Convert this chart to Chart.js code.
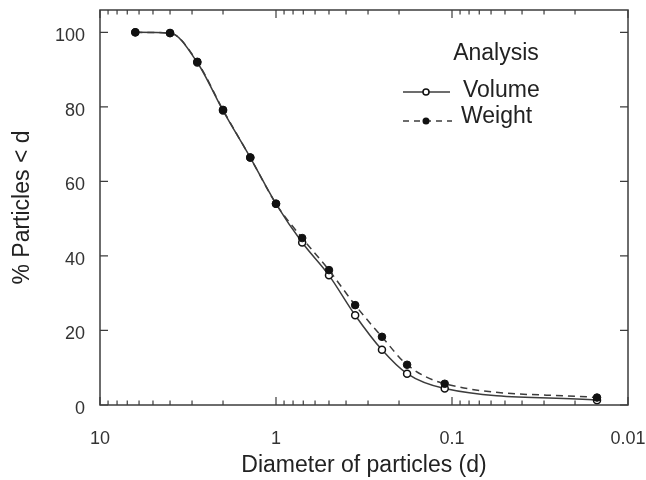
<!DOCTYPE html>
<html>
<head>
<meta charset="utf-8">
<script src="https://cdn.jsdelivr.net/npm/chart.js@4.4.1/dist/chart.umd.min.js"></script>
<style>
html,body{margin:0;padding:0;background:#fff;}
#wrap{width:646px;height:480px;position:relative;}
</style>
</head>
<body>
<div id="wrap"><canvas id="sizeChart" width="646" height="480"></canvas></div>
<script>
// sieve diameters
const diameters = [6.3, 4.0, 2.8, 2.0, 1.4, 1.0, 0.71, 0.5, 0.355, 0.25, 0.18, 0.11, 0.015]
const volumePct = [100, 99.8, 91.9, 79.0, 66.4, 54.0, 43.6, 34.8, 24.1, 14.8, 8.4, 4.4, 1.3]
const weightPct = [100, 99.8, 92.1, 79.2, 66.4, 54.0, 44.8, 36.2, 26.8, 18.3, 10.8, 5.7, 2.0]

const xTicks = [10, 1, 0.1, 0.01]
const yTicks = [0, 20, 40, 60, 80, 100]

const FONT = "'Liberation Sans', Arial, sans-serif"
const INK = '#222'
const LINE = '#3c3c3c'

function toPoints(vals){
return diameters.map((d,i)=>({x:d,y:vals[i]}))
}

// frame + inward ticks on all four sides
const framePlugin = {
id:'frame',
afterDraw(chart){
const {ctx, chartArea:a, scales} = chart
const xs = scales.x, ys = scales.y
ctx.save()
ctx.strokeStyle = LINE
ctx.lineWidth = 1.5
ctx.strokeRect(a.left, a.top, a.right-a.left, a.bottom-a.top)
ctx.lineWidth = 1.2
ctx.beginPath()
for(let e=-2;e<1;e++){
for(let m=1;m<=10;m++){
let v = m*Math.pow(10,e)
let px = xs.getPixelForValue(v)
let len = (m==1||m==10) ? 8 : 4.5
ctx.moveTo(px, a.bottom); ctx.lineTo(px, a.bottom-len)
ctx.moveTo(px, a.top); ctx.lineTo(px, a.top+len)
}
}
yTicks.forEach(v=>{
let py = ys.getPixelForValue(v)
ctx.moveTo(a.left, py); ctx.lineTo(a.left+8, py)
ctx.moveTo(a.right, py); ctx.lineTo(a.right-8, py)
})
ctx.stroke()
ctx.restore()
}
}

// legend box drawn inside the plot like the original
const legendPlugin = {
id:'analysisLegend',
afterDraw(chart){
const ctx = chart.ctx
ctx.save()
ctx.font = "23px " + FONT
ctx.fillStyle = INK
ctx.textBaseline = 'alphabetic'
ctx.textAlign = 'center'
ctx.fillText('Analysis', 496, 60)
ctx.textAlign = 'left'
ctx.fillText('Volume', 463, 97)
ctx.fillText('Weight', 461, 123)

ctx.strokeStyle = LINE
ctx.lineWidth = 1.5
ctx.beginPath()
ctx.moveTo(403, 92); ctx.lineTo(450, 92)
ctx.stroke()
ctx.setLineDash([6,5])
ctx.beginPath()
ctx.moveTo(403, 121); ctx.lineTo(452, 121)
ctx.stroke()
ctx.setLineDash([])

ctx.beginPath()
ctx.arc(426, 92, 3, 0, Math.PI*2)
ctx.fillStyle = '#fff'
ctx.fill()
ctx.strokeStyle = '#111'
ctx.stroke()
ctx.beginPath()
ctx.arc(426, 121, 3.5, 0, Math.PI*2)
ctx.fillStyle = '#111'
ctx.fill()
ctx.restore()
}
}

new Chart(document.getElementById('sizeChart'),{
type:'line',
data:{
datasets:[{
label:'Weight',
data:toPoints(weightPct),
borderColor:LINE,
borderWidth:1.5,
borderDash:[7,5],
pointRadius:3.8,
pointBackgroundColor:'#111',
pointBorderColor:'#111',
pointBorderWidth:1,
cubicInterpolationMode:'monotone',
fill:false
},{
label:'Volume',
data:toPoints(volumePct),
borderColor:LINE,
borderWidth:1.5,
pointRadius:3.5,
pointBackgroundColor:'#fff',
pointBorderColor:'#111',
pointBorderWidth:1.5,
cubicInterpolationMode:'monotone',
fill:false
}]
},
options:{
responsive:false,
animation:false,
devicePixelRatio:1,
layout:{padding:{top:10,right:18,bottom:0,left:0}},
plugins:{
legend:{display:false},
tooltip:{enabled:false}
},
scales:{
x:{
type:'logarithmic',
reverse:true,
min:0.01,
max:10,
afterBuildTicks(scale){ scale.ticks = xTicks.map(v=>({value:v})) },
afterFit(scale){
scale.height = 75
scale.paddingLeft = 0
scale.paddingRight = 0
},
ticks:{
autoSkip:false,
maxRotation:0,
padding:23,
color:'#333',
font:{family:FONT,size:18},
callback:v=>String(v)
},
grid:{display:false,drawTicks:false},
border:{display:false},
title:{
display:true,
text:'Diameter of particles (d)',
color:INK,
font:{family:FONT,size:23},
padding:{top:0,bottom:1}
}
},
y:{
type:'linear',
min:0,
max:106,
afterBuildTicks(scale){ scale.ticks = yTicks.map(v=>({value:v})) },
afterFit(scale){
scale.width = 100
scale.paddingTop = 0
scale.paddingBottom = 0
},
ticks:{
padding:15,
labelOffset:4,
color:'#333',
font:{family:FONT,size:18}
},
grid:{display:false,drawTicks:false},
border:{display:false},
title:{
display:true,
text:'% Particles < d',
color:INK,
font:{family:FONT,size:23},
padding:{top:9,bottom:0}
}
}
}
},
plugins:[framePlugin, legendPlugin]
})
</script>
</body>
</html>
